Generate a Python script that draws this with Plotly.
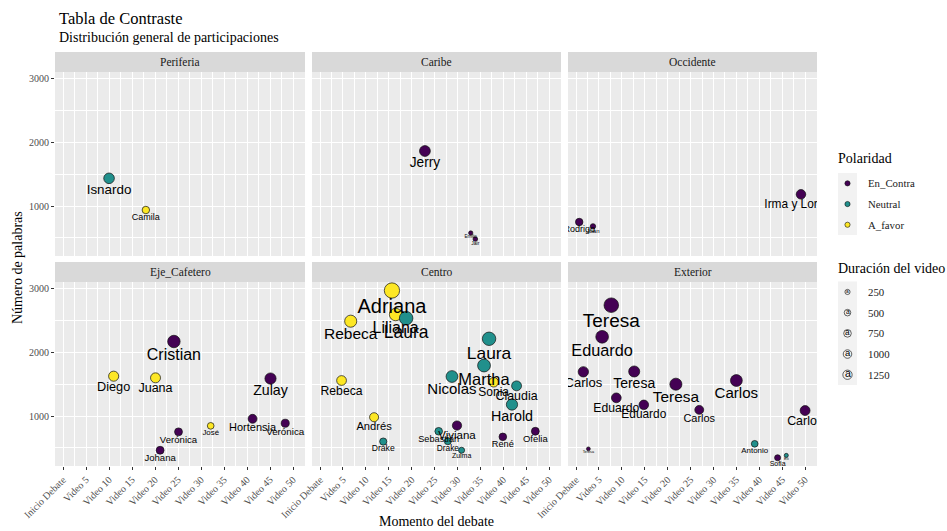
import plotly.graph_objects as go

# ---------------- data ----------------
regiones = ["Periferia", "Caribe", "Occidente", "Eje_Cafetero", "Centro", "Exterior"]
polaridades = ["En_Contra", "Neutral", "A_favor"]
colores_polaridad = ["#440154", "#21908C", "#FDE725"]

momento_ticks = [0, 5, 10, 15, 20, 25, 30, 35, 40, 45, 50]
momento_labels = ["Inicio Debate", "Video 5", "Video 10", "Video 15", "Video 20", "Video 25",
                  "Video 30", "Video 35", "Video 40", "Video 45", "Video 50"]
palabras_ticks = [1000, 2000, 3000]
duracion_breaks = [250, 500, 750, 1000, 1250]

participante = [
    "Isnardo", "Camila",
    "Jerry", "Emilio", "Jair",
    "Rodrigo", "Juan", "Irma y Lorena",
    "Cristian", "Diego", "Juana", "Zulay", "Hortensia", "Verónica", "José", "Verónica", "Johana",
    "Adriana", "Liliana", "Laura", "Rebeca", "Laura", "Martha", "Nicolas", "Sonia", "Claudia",
    "Harold", "Rebeca", "Andrés", "Viviana", "Sebastián", "Drake", "Zulma", "Drake", "René", "Ofelia",
    "Teresa", "Eduardo", "Carlos", "Teresa", "Teresa", "Carlos", "Eduardo", "Eduardo", "Carlos",
    "Carlos", "Teresa", "Antonio", "Sofia", "Eli",
]
region = (["Periferia"] * 2 + ["Caribe"] * 3 + ["Occidente"] * 3 + ["Eje_Cafetero"] * 9
          + ["Centro"] * 19 + ["Exterior"] * 14)
momento = [
    10.0, 18.0,
    22.9, 32.9, 33.9,
    0.7, 3.7, 49.1,
    24.1, 11.0, 20.1, 45.1, 41.2, 48.3, 32.1, 25.1, 21.1,
    15.7, 16.5, 18.8, 6.7, 36.9, 35.8, 28.8, 37.9, 42.9, 41.9, 4.7, 11.8, 29.9, 25.9, 27.9, 30.9,
    13.8, 39.9, 47.0,
    7.7, 5.7, 1.6, 12.7, 21.8, 35.0, 8.8, 14.8, 26.9, 50.0, 2.7, 39.0, 44.0, 45.9,
]
palabras = [
    1436, 937,
    1866, 575, 480,
    748, 680, 1184,
    2173, 1627, 1601, 1590, 956, 886, 845, 751, 461,
    2976, 2598, 2540, 2493, 2216, 1795, 1622, 1532, 1475, 1181, 1559, 981, 850, 760, 603, 461,
    598, 672, 760,
    2745, 2247, 1696, 1701, 1501, 1559, 1286, 1176, 1097, 1086, 483, 562, 343, 380,
]
duracion = [
    2000, 900,
    2090, 225, 280,
    900, 400, 1570,
    2840, 1790, 1740, 2240, 1340, 1070, 690, 1020, 1020,
    4440, 2840, 3400, 2670, 3360, 3030, 2500, 1600, 1710, 2270, 1650, 1390, 1470, 940, 770, 540,
    820, 940, 1000,
    4010, 2950, 1880, 2180, 2640, 2530, 1650, 1570, 1340, 1710, 160, 690, 540, 190,
]
polaridad = [
    "Neutral", "A_favor",
    "En_Contra", "En_Contra", "En_Contra",
    "En_Contra", "En_Contra", "En_Contra",
    "En_Contra", "A_favor", "A_favor", "En_Contra", "En_Contra", "En_Contra", "A_favor",
    "En_Contra", "En_Contra",
    "A_favor", "A_favor", "Neutral", "A_favor", "Neutral", "Neutral", "Neutral", "A_favor",
    "Neutral", "Neutral", "A_favor", "A_favor", "En_Contra", "Neutral", "Neutral", "Neutral",
    "Neutral", "En_Contra", "En_Contra",
    "En_Contra", "En_Contra", "En_Contra", "En_Contra", "En_Contra", "En_Contra", "En_Contra",
    "En_Contra", "En_Contra", "En_Contra", "En_Contra", "Neutral", "En_Contra", "Neutral",
]

# ---------------- styling ----------------
W, H = 947, 531
SERIF = "Liberation Serif"
SANS = "Liberation Sans"
COLS = [(55, 305), (312, 561), (568, 817)]   # panel x extents (px)
ROWS = [(72, 256), (282, 466)]               # panel y extents (px)
STRIP = 20
XR = [-1.75, 52.6]
YR = [213, 3110]
color_de = dict(zip(polaridades, colores_polaridad))


def font_px(d):
    """Label size for a given video duration."""
    return 0.30 * d ** 0.5


def diam_px(d):
    """Point diameter for a given video duration."""
    return 0.71 * font_px(d) + 1.8


def fx(px):
    return px / W


def fy(py):
    return 1 - py / H


units_per_px = (YR[1] - YR[0]) / (ROWS[0][1] - ROWS[0][0])
minor_x = [t + 2.5 for t in momento_ticks[:-1]]
minor_y = [t - 500 for t in palabras_ticks]

fig = go.Figure()
layout_axes = {}
shapes = []
annotations = []

# points
for i, reg in enumerate(regiones):
    r, c = divmod(i, 3)
    sfx = "" if i == 0 else str(i + 1)
    idx = [k for k, g in enumerate(region) if g == reg]
    fig.add_trace(go.Scatter(
        x=[momento[k] for k in idx],
        y=[palabras[k] for k in idx],
        mode="markers",
        marker=dict(size=[diam_px(duracion[k]) - 0.7 for k in idx],
                    color=[color_de[polaridad[k]] for k in idx],
                    line=dict(color="#111111", width=0.7), opacity=1),
        xaxis="x" + sfx, yaxis="y" + sfx,
        hoverinfo="skip", showlegend=False, cliponaxis=True,
    ))

    x0, x1 = COLS[c]
    y0, y1 = ROWS[r]
    layout_axes["xaxis" + sfx] = dict(
        domain=[fx(x0), fx(x1)], range=XR, anchor="y" + sfx, automargin=False,
        tickmode="array", tickvals=momento_ticks, ticktext=momento_labels,
        tickangle=-45, showticklabels=(r == 1),
        ticks="outside" if r == 1 else "", ticklen=3, tickwidth=1, tickcolor="#333333",
        tickfont=dict(family=SERIF, size=10, color="#4D4D4D"),
        showgrid=True, gridcolor="white", gridwidth=1.1,
        minor=dict(tickmode="array", tickvals=minor_x, showgrid=True,
                   gridcolor="white", gridwidth=0.55, ticks=""),
        zeroline=False, showline=False, fixedrange=True,
    )
    layout_axes["yaxis" + sfx] = dict(
        domain=[fy(y1), fy(y0)], range=YR, anchor="x" + sfx, automargin=False,
        tickmode="array", tickvals=palabras_ticks,
        showticklabels=(c == 0),
        ticks="outside" if c == 0 else "", ticklen=3, tickwidth=1, tickcolor="#333333",
        tickfont=dict(family=SERIF, size=10, color="#4D4D4D"),
        showgrid=True, gridcolor="white", gridwidth=1.1,
        minor=dict(tickmode="array", tickvals=minor_y, showgrid=True,
                   gridcolor="white", gridwidth=0.55, ticks=""),
        zeroline=False, showline=False, fixedrange=True,
    )

    # facet strip
    shapes.append(dict(type="rect", xref="paper", yref="paper",
                       x0=fx(x0), x1=fx(x1), y0=fy(y0), y1=fy(y0 - STRIP),
                       fillcolor="#D9D9D9", line=dict(width=0), layer="below"))
    annotations.append(dict(text=reg, xref="paper", yref="paper",
                            x=fx((x0 + x1) / 2), y=fy(y0 - STRIP / 2),
                            xanchor="center", yanchor="middle", showarrow=False,
                            font=dict(family=SERIF, size=11.5, color="#1A1A1A")))

# labels, drawn over all points, clipped to the panel
for i, reg in enumerate(regiones):
    sfx = "" if i == 0 else str(i + 1)
    idx = [k for k, g in enumerate(region) if g == reg]
    fig.add_trace(go.Scatter(
        x=[momento[k] for k in idx],
        y=[palabras[k] - 0.9 * font_px(duracion[k]) * units_per_px for k in idx],
        mode="text",
        text=[participante[k] for k in idx],
        textposition="middle center",
        textfont=dict(family=SANS, size=[font_px(duracion[k]) for k in idx], color="black"),
        xaxis="x" + sfx, yaxis="y" + sfx,
        hoverinfo="skip", showlegend=False, cliponaxis=True,
    ))

# titles
annotations += [
    dict(text="Tabla de Contraste", xref="paper", yref="paper", x=fx(57), y=fy(18),
         xanchor="left", yanchor="middle", showarrow=False,
         font=dict(family=SERIF, size=16.5, color="black")),
    dict(text="Distribución general de participaciones", xref="paper", yref="paper",
         x=fx(57), y=fy(38), xanchor="left", yanchor="middle", showarrow=False,
         font=dict(family=SERIF, size=14, color="black")),
    dict(text="Momento del debate", xref="paper", yref="paper", x=fx(436), y=fy(521),
         xanchor="center", yanchor="middle", showarrow=False,
         font=dict(family=SERIF, size=14, color="black")),
    dict(text="Número de palabras", xref="paper", yref="paper", x=fx(17), y=fy(268),
         xanchor="center", yanchor="middle", showarrow=False, textangle=-90,
         font=dict(family=SERIF, size=14, color="black")),
]

# legend: Polaridad
LX, KW, KH = 838, 19, 20.7
kx = LX + KW / 2
annotations.append(dict(text="Polaridad", xref="paper", yref="paper", x=fx(836), y=fy(158),
                        xanchor="left", yanchor="middle", showarrow=False,
                        font=dict(family=SERIF, size=14, color="black")))
top = 173
shapes.append(dict(type="rect", xref="paper", yref="paper", x0=fx(LX), x1=fx(LX + KW),
                   y0=fy(top + KH * len(polaridades)), y1=fy(top),
                   fillcolor="#F2F2F2", line=dict(width=0), layer="below"))
for j, (p, col) in enumerate(zip(polaridades, colores_polaridad)):
    cy = top + KH * (j + 0.5)
    shapes.append(dict(type="circle", xref="paper", yref="paper",
                       xsizemode="pixel", ysizemode="pixel",
                       xanchor=fx(kx), yanchor=fy(cy), x0=-2.6, x1=2.6, y0=-2.6, y1=2.6,
                       fillcolor=col, line=dict(color="#111111", width=0.6)))
    annotations.append(dict(text=p, xref="paper", yref="paper", x=fx(866), y=fy(cy),
                            xanchor="left", yanchor="middle", showarrow=False,
                            font=dict(family=SERIF, size=10.8, color="#1A1A1A")))

# legend: Duración del video
annotations.append(dict(text="Duración del video", xref="paper", yref="paper", x=fx(836),
                        y=fy(268), xanchor="left", yanchor="middle", showarrow=False,
                        font=dict(family=SERIF, size=14, color="black")))
top = 281.6
shapes.append(dict(type="rect", xref="paper", yref="paper", x0=fx(LX), x1=fx(LX + KW),
                   y0=fy(top + KH * len(duracion_breaks)), y1=fy(top),
                   fillcolor="#F2F2F2", line=dict(width=0), layer="below"))
for j, b in enumerate(duracion_breaks):
    cy = top + KH * (j + 0.5)
    rad = diam_px(b) / 2
    shapes.append(dict(type="circle", xref="paper", yref="paper",
                       xsizemode="pixel", ysizemode="pixel",
                       xanchor=fx(kx), yanchor=fy(cy), x0=-rad, x1=rad, y0=-rad, y1=rad,
                       fillcolor="rgba(0,0,0,0)", line=dict(color="#222222", width=0.7)))
    annotations.append(dict(text="a", xref="paper", yref="paper", x=fx(kx), y=fy(cy),
                            xanchor="center", yanchor="middle", showarrow=False,
                            yshift=0.12 * font_px(b),
                            font=dict(family=SANS, size=font_px(b), color="black")))
    annotations.append(dict(text=str(b), xref="paper", yref="paper", x=fx(866), y=fy(cy),
                            xanchor="left", yanchor="middle", showarrow=False,
                            font=dict(family=SERIF, size=10.8, color="#1A1A1A")))

fig.update_layout(
    width=W, height=H, autosize=False,
    margin=dict(l=0, r=0, t=0, b=0, pad=0, autoexpand=False),
    paper_bgcolor="white", plot_bgcolor="#EBEBEB",
    showlegend=False,
    shapes=shapes, annotations=annotations,
    **layout_axes,
)

fig.write_html("out.html", config={"displayModeBar": False})
